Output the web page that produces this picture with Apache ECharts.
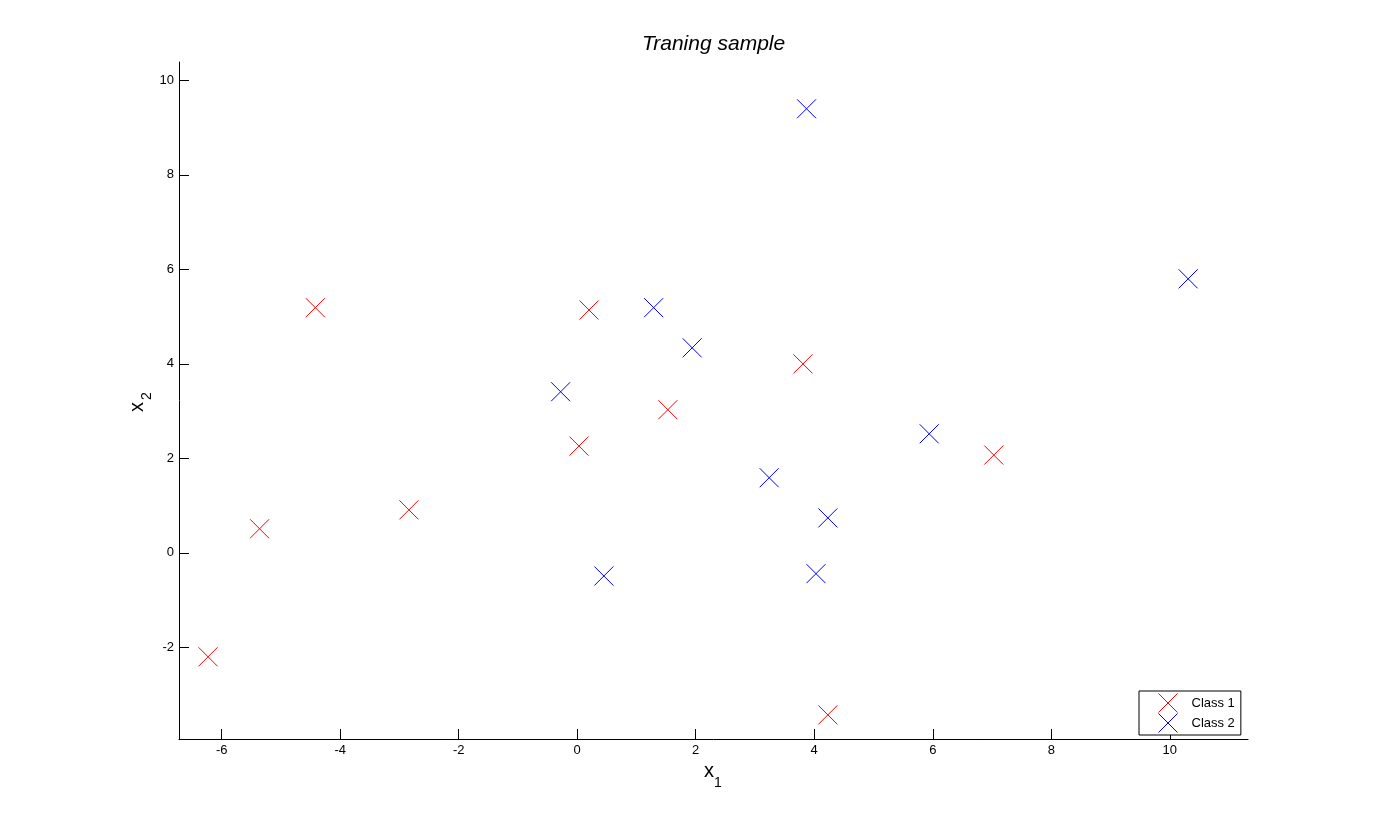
<!DOCTYPE html>
<html>
<head>
<meta charset="utf-8">
<script src="https://cdn.jsdelivr.net/npm/echarts@6/dist/echarts.min.js"></script>
<style>html,body{margin:0;padding:0;background:#fff;}#c{width:1379px;height:830px;}</style>
</head>
<body>
<div id="c"></div>
<script>
var titleText = 'Traning sample';
var seriesNames = ['Class 1', 'Class 2'];
var seriesColors = ['#ff0000', '#0000ff'];
var xName = ['x', '1'];
var yName = ['x', '2'];
var class1X = [-6.23, -5.36, -4.42, -2.84, 0.20, 1.53, 0.03, 3.81, 7.03, 4.23];
var class1Y = [-2.20, 0.51, 5.19, 0.91, 5.14, 3.03, 2.26, 4.00, 2.07, -3.43];
var class2X = [1.29, 1.94, -0.28, 3.24, 5.94, 4.23, 4.03, 0.45, 3.87, 10.31];
var class2Y = [5.19, 4.34, 3.41, 1.59, 2.52, 0.74, -0.44, -0.49, 9.40, 5.80];
var xTicks = [-6, -4, -2, 0, 2, 4, 6, 8, 10];
var yTicks = [-2, 0, 2, 4, 6, 8, 10];

function pairs(xs, ys) { return xs.map(function (x, i) { return [x, ys[i]]; }); }
var FONT = 'Liberation Sans, Arial, Helvetica, sans-serif';
var CROSS = 'path://M0,0L10,10M10,0L0,10';

var chart = echarts.init(document.getElementById('c'), null, {renderer: 'canvas'});
function axisCommon(ticks) {
  return {
    axisLine: {show: true, onZero: false, lineStyle: {color: '#000', width: 1}},
    axisTick: {show: true, inside: true, length: 10, lineStyle: {color: '#000'}, customValues: ticks},
    axisLabel: {color: '#000', fontSize: 13, fontFamily: FONT, customValues: ticks, margin: 5},
    splitLine: {show: false}
  };
}
var xAxis = Object.assign({type: 'value', min: -6.72, max: 11.32}, axisCommon(xTicks));
var yAxis = Object.assign({type: 'value', min: -3.94, max: 10.39}, axisCommon(yTicks));

function mk(name, color, xs, ys) {
  return {
    name: name, type: 'scatter', data: pairs(xs, ys),
    symbol: CROSS, symbolSize: 19, color: color,
    itemStyle: {color: 'transparent', borderColor: color, borderWidth: 1, opacity: 1},
    emphasis: {disabled: true},
    animation: false
  };
}
function txt(t, x, y, size, rot) {
  return {
    type: 'text', x: x, y: y, rotation: rot || 0, silent: true,
    style: {text: t, fontSize: size, fontFamily: FONT, fill: '#000', align: 'center', verticalAlign: 'middle'}
  };
}

chart.setOption({
  animation: false,
  backgroundColor: '#fff',
  title: {
    text: titleText, left: 637, top: 29,
    textStyle: {fontSize: 21, fontStyle: 'italic', fontWeight: 'normal', fontFamily: FONT, color: '#000'}
  },
  grid: {left: 179, top: 62, width: 1069, height: 677, containLabel: false},
  xAxis: xAxis,
  yAxis: yAxis,
  graphic: [
    txt(xName[0], 709, 771, 20),
    txt(xName[1], 718, 783, 14),
    txt(yName[0], 137, 407, 20, Math.PI / 2),
    txt(yName[1], 147, 396, 14, Math.PI / 2)
  ],
  legend: {
    data: seriesNames.map(function (n, i) {
      return {name: n, itemStyle: {color: 'transparent', borderColor: seriesColors[i], borderWidth: 1}};
    }),
    orient: 'vertical', left: 1139, top: 691,
    itemWidth: 37, itemHeight: 19, itemGap: 0, padding: [2, 6, 2, 19],
    borderColor: '#000', borderWidth: 1, backgroundColor: '#fff',
    icon: CROSS, selectedMode: false,
    textStyle: {fontSize: 13, fontFamily: FONT, color: '#000'}
  },
  series: [
    mk(seriesNames[0], seriesColors[0], class1X, class1Y),
    mk(seriesNames[1], seriesColors[1], class2X, class2Y)
  ]
});
</script>
</body>
</html>
